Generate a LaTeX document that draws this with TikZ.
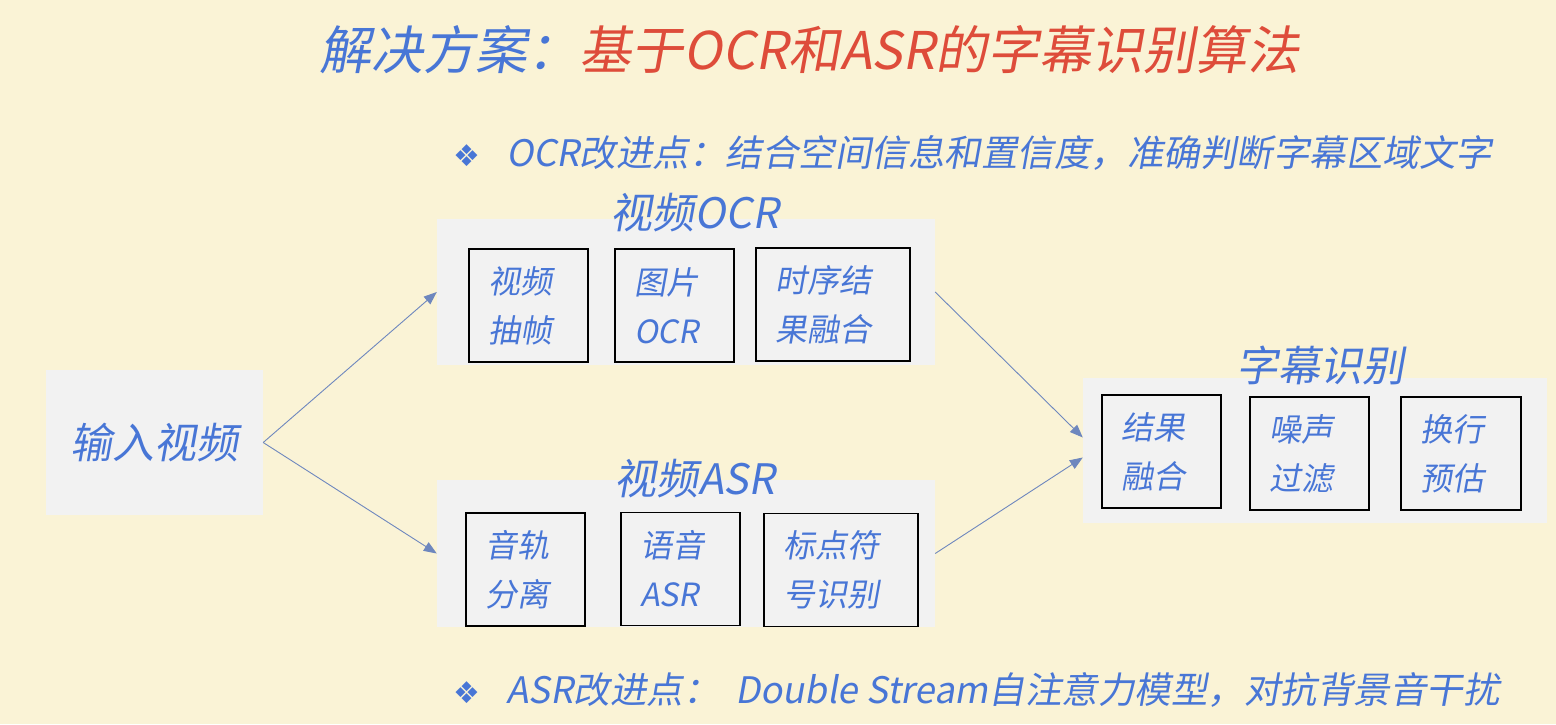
\documentclass[tikz,border=0pt]{standalone}
\usepackage{fontspec}
\setmainfont{Noto Sans CJK SC}[FakeSlant=0.18]
\newfontfamily\symfont{DejaVu Sans}
\usetikzlibrary{arrows.meta}

\definecolor{bgcream}{RGB}{250,243,214}
\definecolor{boxgray}{RGB}{242,242,242}
\definecolor{txtblue}{RGB}{72,118,214}
\definecolor{titlered}{RGB}{222,76,58}
\definecolor{arrowblue}{RGB}{110,135,190}

\tikzset{
  group/.style={fill=boxgray, inner sep=0pt},
  grouplabel/.style={text=txtblue, font=\fontsize{42}{48}\selectfont},
  stepbox/.style={draw=black, line width=1.6pt, fill=boxgray, text=txtblue,
    align=left, inner xsep=19pt, text width=#1, minimum height=113pt,
    font=\fontsize{32}{49}\selectfont},
  bullet/.style={anchor=west, text=txtblue, font=\fontsize{36.5}{40}\selectfont},
  flow/.style={draw=arrowblue, line width=0.9pt, -{Triangle[length=13pt,width=10pt]}}
}

\begin{document}
\begin{tikzpicture}[x=1pt,y=-1pt]
  \fill[bgcream] (0,0) rectangle (1556,724);
  \useasboundingbox (0,0) rectangle (1556,724);

  % title
  \node[anchor=west, font=\fontsize{52}{60}\selectfont] (title) at (316,50)
    {{\color{txtblue}解决方案：}{\color{titlered}基于OCR和ASR的字幕识别算法}};

  % notes
  \node[bullet] (ocrnote) at (450,153)
    {{\symfont\fontsize{30}{30}\selectfont ❖}\hspace{26pt}OCR改进点：结合空间信息和置信度，准确判断字幕区域文字};
  \node[bullet] (asrnote) at (450,690)
    {{\symfont\fontsize{30}{30}\selectfont ❖}\hspace{26pt}ASR改进点：\hspace{16pt}Double Stream自注意力模型，对抗背景音干扰};

  % input
  \node[group, minimum width=217pt, minimum height=145pt, text=txtblue,
    font=\fontsize{42}{48}\selectfont] (inp) at (154.5,442.5) {输入视频};

  % video OCR
  \node[group, minimum width=498pt, minimum height=146pt] (ocr) at (686,292) {};
  \node[grouplabel] (ocrlabel) at (695,213) {视频OCR};
  \node[stepbox=81pt] (ocrA) at (528.5,305.5) {视频\\抽帧};
  \node[stepbox=81pt] (ocrB) at (674.5,305.5) {图片\\OCR};
  \node[stepbox=116pt] (ocrC) at (833,304.5) {时序结\\果融合};

  % video ASR
  \node[group, minimum width=498pt, minimum height=147pt] (asr) at (686,553.5) {};
  \node[grouplabel] (asrlabel) at (695,479) {视频ASR};
  \node[stepbox=81pt] (asrA) at (525.5,569.5) {音轨\\分离};
  \node[stepbox=81pt] (asrB) at (680.5,569) {语音\\ASR};
  \node[stepbox=116pt] (asrC) at (841,570) {标点符\\号识别};

  % subtitle recognition
  \node[group, minimum width=464pt, minimum height=145pt] (sub) at (1315,450.5) {};
  \node[grouplabel] (sublabel) at (1320,365) {字幕识别};
  \node[stepbox=81pt] (subA) at (1161.5,451.5) {结果\\融合};
  \node[stepbox=81pt] (subB) at (1309.5,453.5) {噪声\\过滤};
  \node[stepbox=82pt] (subC) at (1461,453.5) {换行\\预估};

  \draw[flow] (inp.east) -- (ocr.west);
  \draw[flow] (inp.east) -- (asr.west);
  \draw[flow] (ocr.east) -- ([yshift=13pt]sub.west);
  \draw[flow] (asr.east) -- ([yshift=-7pt]sub.west);
\end{tikzpicture}
\end{document}
